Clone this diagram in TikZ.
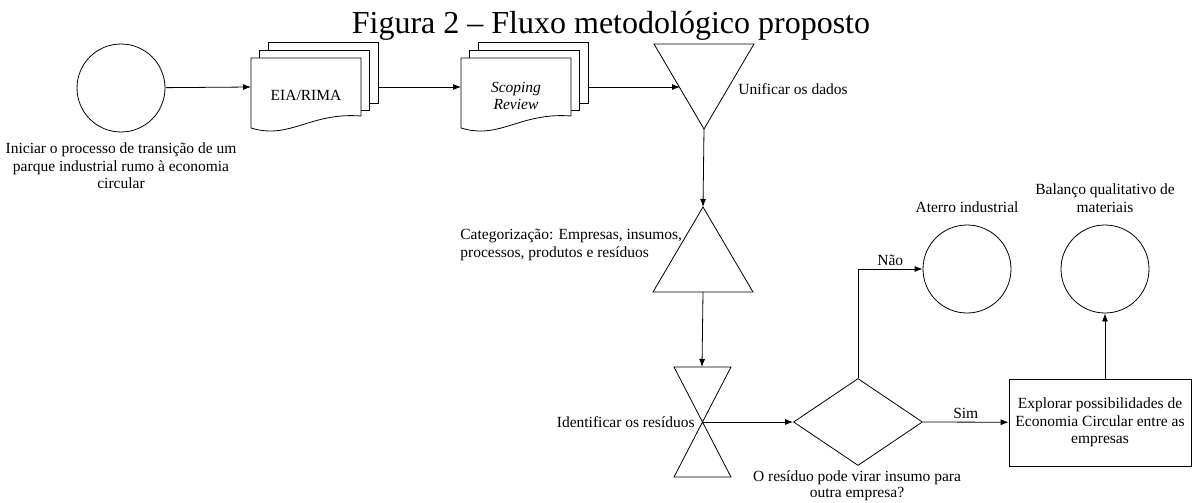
\documentclass[tikz,border=0pt]{standalone}
\usepackage{fontspec}
\setmainfont{Liberation Serif}
\usetikzlibrary{shapes.geometric,arrows.meta}

\newcommand{\bodyfont}{\fontsize{15.5}{17.5}\selectfont}
% pilha de documentos: #1 nome, #2 x, #3 y (canto superior esquerdo da folha da frente)
\newcommand{\docstack}[3]{%
  \draw[fill=white] (#2+17,#3-16) rectangle ++(110,61);
  \draw[fill=white] (#2+8.5,#3-8) rectangle ++(110,60);
  \draw[fill=white] (#2,#3) -- (#2+110,#3) -- (#2+110,#3+58)
    .. controls (#2+59,#3+54) and (#2+39,#3+82) .. (#2,#3+70) -- cycle;
  \coordinate (#1-in) at (#2,#3+29);
  \coordinate (#1-out) at (#2+127,#3+29);
}

\begin{document}
\begin{tikzpicture}[x=1pt,y=-1pt,line width=0.8pt,font=\bodyfont,
  flow/.style={-{Latex[length=8pt,width=6pt]}},
  endpt/.style={draw,circle,minimum size=88pt,inner sep=0pt},
  lbl/.style={align=center,inner sep=0pt}]
\useasboundingbox (0,0) rectangle (1192,503);
\node[font=\fontsize{32}{36}\selectfont,anchor=base] (titulo) at (611,34) {Figura 2 – Fluxo metodológico proposto};

% inicio
\node[endpt] (inicio) at (121,88) {};
\node[lbl] (inicio-txt) at (121,166) {Iniciar o processo de transição de um\\parque industrial rumo à economia\\circular};

% documentos
\docstack{eia}{251}{58}
\node (eia) at (306,95) {EIA/RIMA};
\docstack{scop}{461}{58}
\node[lbl,font=\bodyfont\itshape] (scop) at (516,96) {Scoping\\Review};

% unificar
\coordinate (unif-c) at (704,129);
\draw (654,44) -- (754,44) -- (unif-c) -- cycle;
\coordinate (unif-in) at (680,87);
\node[lbl,anchor=west] (unif-txt) at (738,89) {Unificar os dados};

% categorizacao
\coordinate (cat-top) at (703,207);
\coordinate (cat-base) at (703,292);
\draw (cat-top) -- (753,292) -- (653,292) -- cycle;
\node[lbl,anchor=west,align=left] (cat-txt) at (460,245) {Categorização: Empresas, insumos,\\processos, produtos e resíduos};

% identificar
\coordinate (ampul-top) at (702,367);
\coordinate (ampul) at (702.5,422);
\draw (674,367) -- (731,367) -- (674,477) -- (731,477) -- cycle;
\node[lbl,anchor=east] (ampul-txt) at (695,422) {Identificar os resíduos};

% decisao
\node[draw,diamond,minimum width=129pt,minimum height=87pt,inner sep=0pt] (decisao) at (858,422) {};
\node[lbl,font=\fontsize{15.5}{16}\selectfont] (decisao-txt) at (857,486) {O resíduo pode virar insumo para\\outra empresa?};

% destinos
\node[endpt] (aterro) at (967,269) {};
\node[lbl] (aterro-txt) at (967,207) {Aterro industrial};
\node[endpt] (balanco) at (1105,269) {};
\node[lbl] (balanco-txt) at (1105,198) {Balanço qualitativo de\\materiais};
\node[draw,lbl,minimum width=182pt,minimum height=87pt] (explorar) at (1100,422.5) {Explorar possibilidades de\\Economia Circular entre as\\empresas};

% ligacoes
\draw[flow] (inicio) -- (eia-in);
\draw[flow] (eia-out) -- (scop-in);
\draw[flow] (scop-out) -- (unif-in);
\draw[flow] (unif-c) -- (cat-top);
\draw[flow] (cat-base) -- (ampul-top);
\draw[flow] (ampul) -- (decisao);
\draw[flow] (decisao.north) |- (aterro) node[pos=0.75,above]{Não};
\draw[flow] (decisao.east) -- (explorar) node[midway,above]{Sim};
\draw[flow] (explorar.north -| balanco) -- (balanco);
\end{tikzpicture}
\end{document}
